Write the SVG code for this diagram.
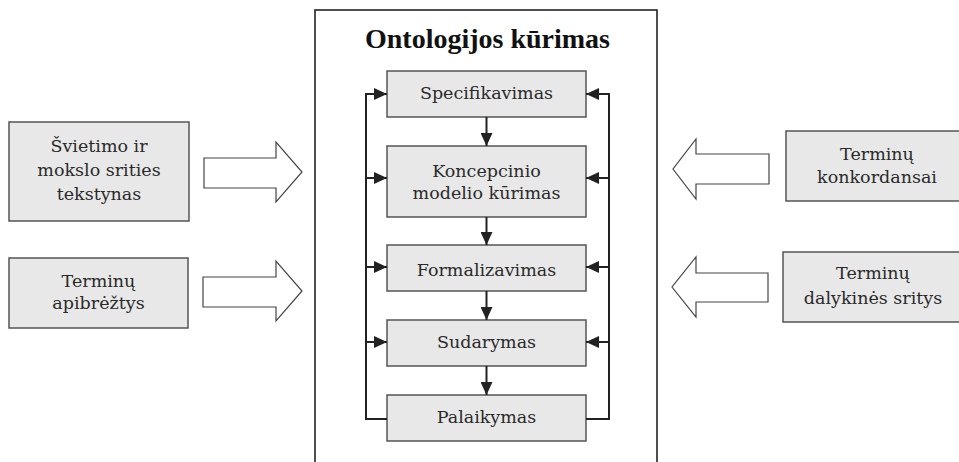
<svg xmlns="http://www.w3.org/2000/svg" width="959" height="462" viewBox="0 0 959 462">
<style>
.bg{fill:#ffffff}
.frame{fill:none;stroke:#222;stroke-width:1.6}
.box{fill:#e8e8e8;stroke:#555;stroke-width:1.5}
.t{font-family:"DejaVu Serif","Liberation Serif",serif;font-size:17.5px;fill:#2a2a2a;text-anchor:middle}
.title{font-family:"Liberation Serif","DejaVu Serif",serif;font-size:28px;font-weight:bold;fill:#111;text-anchor:middle}
.big{fill:#ffffff;stroke:#444;stroke-width:1.2}
.ar{fill:none;stroke:#222;stroke-width:2;marker-end:url(#ah)}
</style>
<defs>
<marker id="ah" markerUnits="userSpaceOnUse" viewBox="0 0 13 12" refX="13" refY="6" markerWidth="13" markerHeight="12" orient="auto">
<path d="M0,0 L13,6 L0,12 z" fill="#222"/>
</marker>
</defs>
<rect class="bg" x="0" y="0" width="959" height="462"/>
<g id="frame">
<rect class="frame" x="315" y="10" width="342" height="470"/>
<text class="title" x="487.5" y="48">Ontologijos kūrimas</text>
</g>
<g id="specifikavimas">
<rect class="box" x="387" y="71" width="199" height="46"/>
<text class="t" x="486.5" y="99">Specifikavimas</text>
</g>
<g id="koncepcinio">
<rect class="box" x="387" y="146" width="199" height="71"/>
<text class="t" x="486.5" y="177">Koncepcinio</text>
<text class="t" x="486.5" y="199">modelio kūrimas</text>
</g>
<g id="formalizavimas">
<rect class="box" x="387" y="245" width="199" height="46"/>
<text class="t" x="486.5" y="276">Formalizavimas</text>
</g>
<g id="sudarymas">
<rect class="box" x="387" y="320" width="199" height="46"/>
<text class="t" x="486.5" y="348">Sudarymas</text>
</g>
<g id="palaikymas">
<rect class="box" x="387" y="395" width="199" height="46"/>
<text class="t" x="486.5" y="423">Palaikymas</text>
</g>
<g id="svietimo">
<rect class="box" x="9" y="122" width="180" height="99"/>
<text class="t" x="99" y="152">Švietimo ir</text>
<text class="t" x="99" y="176">mokslo srities</text>
<text class="t" x="99" y="200">tekstynas</text>
</g>
<g id="apibreztys">
<rect class="box" x="9" y="258" width="179" height="70"/>
<text class="t" x="98.5" y="287">Terminų</text>
<text class="t" x="98.5" y="309">apibrėžtys</text>
</g>
<g id="konkordansai">
<rect class="box" x="786" y="131" width="185" height="70"/>
<text class="t" x="877" y="160">Terminų</text>
<text class="t" x="877" y="183">konkordansai</text>
</g>
<g id="dalykines">
<rect class="box" x="783" y="252" width="188" height="70"/>
<text class="t" x="873" y="279">Terminų</text>
<text class="t" x="873" y="304">dalykinės sritys</text>
</g>
<g id="connectors">
<polygon class="big" points="204,158 276,158 276,142 302,172 276,202 276,188 204,188"/>
<polygon class="big" points="203,277 276,277 276,261 302,291 276,321 276,307 203,307"/>
<polygon class="big" points="769,154 696,154 696,139 673,169 696,199 696,184 769,184"/>
<polygon class="big" points="768,273 696,273 696,257 672,287 696,317 696,302 768,302"/>
<path class="ar" d="M486.5,117 V146"/>
<path class="ar" d="M486.5,217 V245"/>
<path class="ar" d="M486.5,291 V320"/>
<path class="ar" d="M486.5,366 V395"/>
<path class="ar" d="M387,419 H366 V94 H387"/>
<path class="ar" d="M366,178 H387"/>
<path class="ar" d="M366,267 H387"/>
<path class="ar" d="M366,342 H387"/>
<path class="ar" d="M586,419 H609 V94 H586"/>
<path class="ar" d="M609,178 H586"/>
<path class="ar" d="M609,267 H586"/>
<path class="ar" d="M609,342 H586"/>
</g>
</svg>
